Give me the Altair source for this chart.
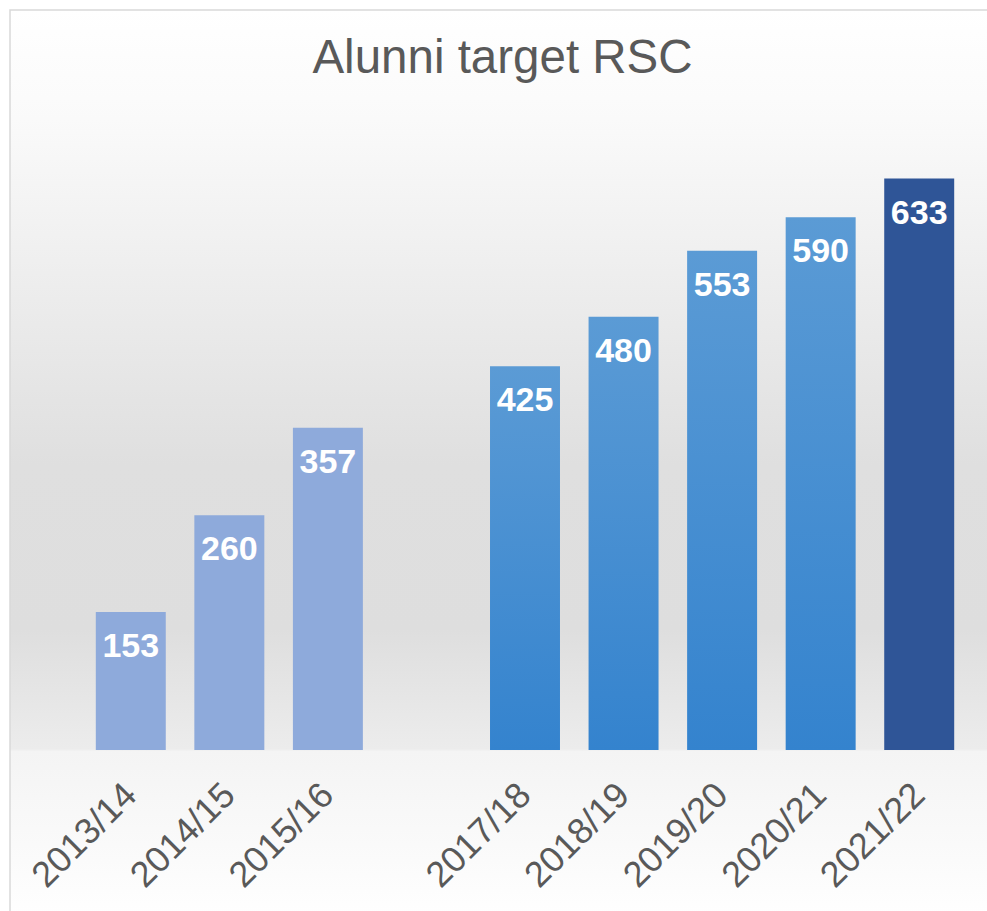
import altair as alt
import pandas as pd

# ---- data ----
categories = ["2013/14", "2014/15", "2015/16", " ", "2017/18", "2018/19", "2019/20", "2020/21", "2021/22"]
years = ["2013/14", "2014/15", "2015/16", "2017/18", "2018/19", "2019/20", "2020/21", "2021/22"]
values = [153, 260, 357, 425, 480, 553, 590, 633]
groups = ["past", "past", "past", "mid", "mid", "mid", "mid", "last"]
title_text = "Alunni target RSC"

df = pd.DataFrame({"year": years, "value": values, "group": groups})

W, H = 886, 650
PAD_L, PAD_T, PAD_R, PAD_B = 82, 100, 19, 161

xscale = alt.Scale(domain=categories, paddingInner=0.29, paddingOuter=0.14)
yscale = alt.Scale(domain=[0, 720], nice=False)

x_enc = alt.X("year:N", scale=xscale, sort=categories,
              axis=alt.Axis(title=None, labelAngle=-45, labelAlign="right", labelBaseline="top",
                            labelFontSize=36, labelColor="#595959", labelFont="Liberation Sans",
                            domain=False, ticks=False, labelPadding=27, labelOffset=-12,
                            grid=False, zindex=2, labelLimit=300))
y_enc = alt.Y("value:Q", scale=yscale, axis=None)

base = alt.Chart(df)

# background panel with gradient (wall + floor)
bg = alt.Chart(pd.DataFrame({"a": [0]})).mark_rect(
    fill=alt.Gradient(gradient="linear", x1=0, x2=0, y1=0, y2=1,
                      stops=[alt.GradientStop(offset=0, color="#ffffff"),
                             alt.GradientStop(offset=0.12, color="#fafafa"),
                             alt.GradientStop(offset=0.5, color="#dfdfdf"),
                             alt.GradientStop(offset=0.68, color="#dedede"),
                             alt.GradientStop(offset=0.811, color="#ececec"),
                             alt.GradientStop(offset=0.814, color="#f4f4f4"),
                             alt.GradientStop(offset=1, color="#ffffff")]),
    stroke="#d9d9d9", strokeWidth=1.5
).encode(x=alt.value(-PAD_L + 10), x2=alt.value(W + PAD_R + 10),
         y=alt.value(-PAD_T + 10), y2=alt.value(H + PAD_B + 10))

bars_past = base.transform_filter(alt.datum.group == "past").mark_bar(color="#8eaadb").encode(x=x_enc, y=y_enc)
bars_mid = base.transform_filter(alt.datum.group == "mid").mark_bar(
    color=alt.Gradient(gradient="linear", x1=0, x2=0, y1=0, y2=1,
                       stops=[alt.GradientStop(offset=0, color="#5b9bd5"),
                              alt.GradientStop(offset=1, color="#3483ce")])
).encode(x=x_enc, y=y_enc)
bars_last = base.transform_filter(alt.datum.group == "last").mark_bar(color="#2f5597").encode(x=x_enc, y=y_enc)

labels = base.mark_text(color="white", fontWeight="bold", fontSize=34, font="Liberation Sans",
                        baseline="middle", dy=35).encode(
    x=alt.X("year:N", scale=xscale, sort=categories), y=y_enc, text="value:Q")

title = alt.Chart(pd.DataFrame({"t": [title_text]})).mark_text(
    fontSize=47.5, font="Liberation Sans", color="#595959", baseline="alphabetic", align="center"
).encode(x=alt.value(502.5 - PAD_L), y=alt.value(73 - PAD_T), text="t:N")

chart = alt.layer(bg, bars_past, bars_mid, bars_last, labels, title).properties(
    width=W, height=H,
    autosize=alt.AutoSizeParams(type="none"),
    padding={"left": PAD_L, "top": PAD_T, "right": PAD_R, "bottom": PAD_B},
    background="white"
).configure_view(stroke=None)

chart.save("out.html", embed_options={"renderer": "svg", "actions": False})
